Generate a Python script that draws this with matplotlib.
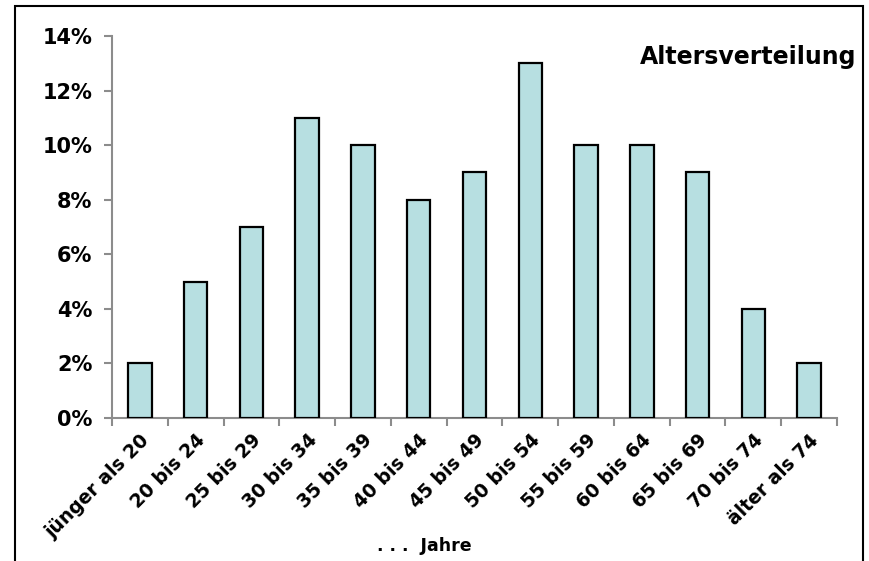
import matplotlib.pyplot as plt
from matplotlib.patches import Rectangle
import numpy as np

categories = ['jünger als 20', '20 bis 24', '25 bis 29', '30 bis 34', '35 bis 39',
              '40 bis 44', '45 bis 49', '50 bis 54', '55 bis 59', '60 bis 64',
              '65 bis 69', '70 bis 74', 'älter als 74']
shares = [2, 5, 7, 11, 10, 8, 9, 13, 10, 10, 9, 4, 2]
yticks = [0, 2, 4, 6, 8, 10, 12, 14]

W, H = 869, 561
fig = plt.figure(figsize=(W / 100, H / 100), dpi=100)
ax = fig.add_axes([112 / W, 1 - 418 / H, (837 - 112) / W, (418 - 36) / H])

x = np.arange(len(categories))
ax.bar(x, shares, width=0.42, color='#B7DFE1', edgecolor='black', linewidth=1.6, zorder=3)

ax.set_xlim(-0.5, len(categories) - 0.5)
ax.set_ylim(0, 14)
ax.set_yticks(yticks)
ax.set_yticklabels(['%d%%' % v for v in yticks], fontsize=15, fontweight='bold')
ax.set_xticks(x)
ax.set_xticklabels(categories, rotation=45, ha='right', rotation_mode='anchor',
                   fontsize=13.5, fontweight='bold')
ax.tick_params(axis='x', length=0, pad=9)
ax.set_xticks(np.arange(len(categories) + 1) - 0.5, minor=True)
ax.tick_params(axis='x', which='minor', length=6, color='#8c8c8c', width=1.5)
ax.tick_params(axis='y', length=6, color='#8c8c8c', width=1.5, pad=8)

for s in ['top', 'right']:
    ax.spines[s].set_visible(False)
for s in ['left', 'bottom']:
    ax.spines[s].set_color('#8c8c8c')
    ax.spines[s].set_linewidth(1.5)

fig.text(856 / W, 1 - 57 / H, 'Altersverteilung', ha='right', va='center',
         fontsize=17, fontweight='bold')
fig.text(424 / W, 1 - 546 / H, '. . .  Jahre', ha='center', va='center',
         fontsize=12.5, fontweight='bold')

fig.patches.append(Rectangle((15 / W, -0.05), (863 - 15) / W, 1 - 6 / H + 0.05,
                             transform=fig.transFigure, fill=False,
                             edgecolor='black', linewidth=1.5))

fig.savefig('out.png', dpi=100)
